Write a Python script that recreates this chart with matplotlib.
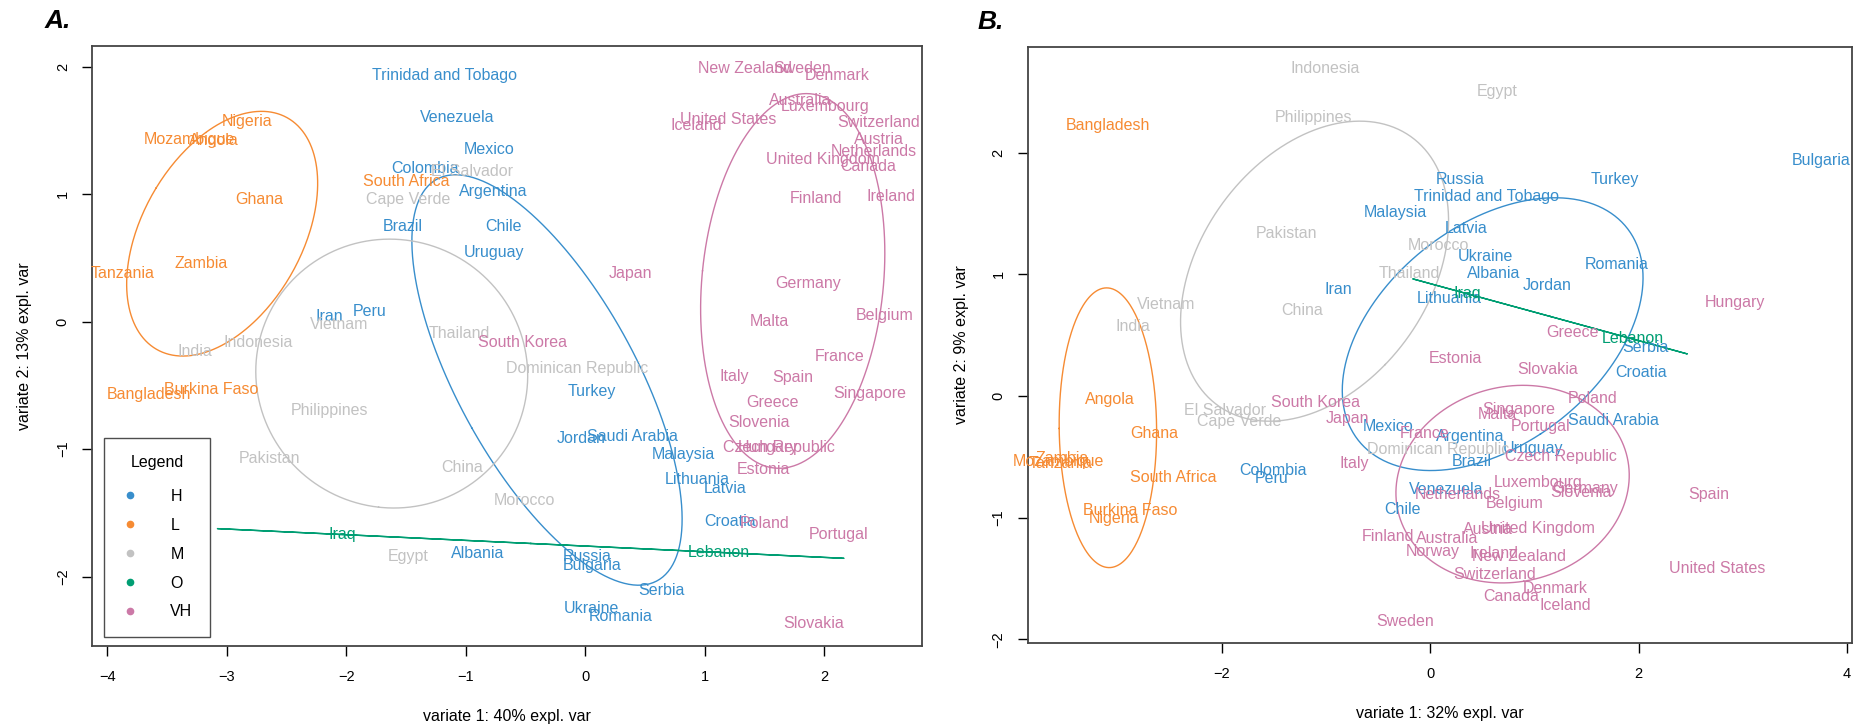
import numpy as np
import matplotlib.pyplot as plt
from matplotlib.lines import Line2D

plt.rcParams['font.family'] = ['Liberation Sans', 'DejaVu Sans']

groups = ["H", "L", "M", "O", "VH"]
group_colors = ["#388ECC", "#F68B33", "#C2C2C2", "#009E73", "#CC79A7"]

# ---- panel A: variate 1 (40%) vs variate 2 (13%)
a_countries = [
    # H
    "Trinidad and Tobago", "Venezuela", "Mexico", "Colombia", "Argentina", "Brazil",
    "Chile", "Uruguay", "Peru", "Iran", "Turkey", "Jordan", "Saudi Arabia", "Malaysia",
    "Lithuania", "Latvia", "Croatia", "Albania", "Russia", "Bulgaria", "Serbia",
    "Ukraine", "Romania",
    # L
    "Nigeria", "Mozambique", "Angola", "Ghana", "Zambia", "Tanzania", "South Africa",
    "Burkina Faso", "Bangladesh",
    # M
    "El Salvador", "Cape Verde", "Vietnam", "Thailand", "Indonesia", "India",
    "Dominican Republic", "Philippines", "Pakistan", "China", "Morocco", "Egypt",
    # O
    "Iraq", "Lebanon",
    # VH
    "New Zealand", "Sweden", "Denmark", "Australia", "Luxembourg", "United States",
    "Iceland", "Switzerland", "Austria", "Netherlands", "United Kingdom", "Canada",
    "Finland", "Ireland", "Japan", "Germany", "Malta", "Belgium", "France", "Italy",
    "Spain", "Singapore", "Greece", "Slovenia", "Czech Republic", "Hungary", "Estonia",
    "Poland", "Portugal", "Slovakia", "South Korea",
]
a_group = ["H"] * 23 + ["L"] * 9 + ["M"] * 12 + ["O"] * 2 + ["VH"] * 31
a_x = [
    -1.18, -1.07, -0.80, -1.34, -0.77, -1.53, -0.68, -0.76, -1.80, -2.14, 0.06, -0.03,
    0.40, 0.82, 0.94, 1.17, 1.21, -0.90, 0.02, 0.06, 0.64, 0.05, 0.30,
    -2.83, -3.31, -3.11, -2.73, -3.21, -3.87, -1.50, -3.13, -3.65,
    -0.95, -1.48, -2.06, -1.05, -2.74, -3.27, -0.07, -2.14, -2.64, -1.03, -0.51, -1.48,
    -2.03, 1.12,
    1.34, 1.82, 2.11, 1.80, 2.01, 1.20, 0.93, 2.46, 2.46, 2.42, 1.99, 2.37, 1.93, 2.56,
    0.38, 1.87, 1.54, 2.51, 2.13, 1.25, 1.74, 2.38, 1.57, 1.46, 1.62, 1.53, 1.49, 1.50,
    2.12, 1.91, -0.52,
]
a_y = [
    1.93, 1.60, 1.35, 1.20, 1.02, 0.75, 0.75, 0.54, 0.08, 0.04, -0.55, -0.92,
    -0.90, -1.04, -1.24, -1.31, -1.57, -1.82, -1.84, -1.91, -2.11, -2.25, -2.31,
    1.57, 1.43, 1.42, 0.96, 0.46, 0.38, 1.10, -0.53, -0.57,
    1.18, 0.96, -0.02, -0.09, -0.16, -0.23, -0.37, -0.70, -1.07, -1.14, -1.40, -1.84,
    -1.67, -1.81,
    1.99, 1.99, 1.93, 1.74, 1.69, 1.59, 1.54, 1.56, 1.43, 1.34, 1.27, 1.22, 0.97, 0.98,
    0.38, 0.30, 0.00, 0.05, -0.27, -0.43, -0.44, -0.56, -0.63, -0.79, -0.99, -0.99,
    -1.16, -1.58, -1.67, -2.37, -0.16,
]

# ---- panel B: variate 1 (32%) vs variate 2 (9%)
b_countries = [
    # H
    "Bulgaria", "Russia", "Turkey", "Trinidad and Tobago", "Malaysia", "Latvia", "Ukraine",
    "Romania", "Albania", "Jordan", "Iran", "Lithuania", "Serbia", "Croatia",
    "Saudi Arabia", "Mexico", "Argentina", "Uruguay", "Brazil", "Colombia", "Peru",
    "Venezuela", "Chile",
    # L
    "Bangladesh", "Angola", "Ghana", "Zambia", "Mozambique", "Tanzania", "South Africa",
    "Burkina Faso", "Nigeria",
    # M
    "Indonesia", "Egypt", "Philippines", "Pakistan", "Morocco", "Thailand", "Vietnam",
    "China", "India", "El Salvador", "Cape Verde", "Dominican Republic",
    # O
    "Iraq", "Lebanon",
    # VH
    "Hungary", "Greece", "Estonia", "Slovakia", "Poland", "Singapore", "Malta",
    "South Korea", "Japan", "Portugal", "France", "Czech Republic", "Italy", "Luxembourg",
    "Germany", "Slovenia", "Spain", "Netherlands", "Belgium", "United Kingdom", "Austria",
    "Finland", "Australia", "Norway", "Ireland", "New Zealand", "United States",
    "Switzerland", "Denmark", "Canada", "Iceland", "Sweden",
]
b_group = ["H"] * 23 + ["L"] * 9 + ["M"] * 12 + ["O"] * 2 + ["VH"] * 32
b_x = [
    3.75, 0.29, 1.77, 0.54, -0.33, 0.34, 0.53, 1.79, 0.61, 1.12, -0.88, 0.18, 2.07, 2.02,
    1.76, -0.40, 0.38, 0.99, 0.40, -1.51, -1.52, 0.15, -0.27,
    -3.09, -3.07, -2.65, -3.53, -3.57, -3.55, -2.47, -2.88, -3.03,
    -1.01, 0.64, -1.12, -1.38, 0.08, -0.20, -2.53, -1.23, -2.85, -1.97, -1.83, 0.08,
    0.36, 1.94,
    2.92, 1.37, 0.24, 1.13, 1.56, 0.85, 0.64, -1.10, -0.79, 1.06, -0.05, 1.25, -0.73,
    1.04, 1.49, 1.45, 2.67, 0.26, 0.81, 1.03, 0.55, -0.41, 0.16, 0.02, 0.61, 0.85, 2.75,
    0.62, 1.20, 0.78, 1.30, -0.24,
]
b_y = [
    1.94, 1.78, 1.78, 1.64, 1.51, 1.38, 1.15, 1.08, 1.01, 0.91, 0.88, 0.80, 0.40, 0.19,
    -0.20, -0.25, -0.33, -0.43, -0.54, -0.61, -0.68, -0.77, -0.93,
    2.22, -0.03, -0.31, -0.51, -0.54, -0.55, -0.67, -0.94, -1.01,
    2.69, 2.50, 2.29, 1.34, 1.24, 1.01, 0.75, 0.70, 0.57, -0.12, -0.21, -0.44,
    0.84, 0.47,
    0.77, 0.52, 0.31, 0.22, -0.02, -0.11, -0.15, -0.05, -0.18, -0.25, -0.31, -0.50, -0.55,
    -0.71, -0.76, -0.79, -0.81, -0.81, -0.88, -1.09, -1.10, -1.15, -1.17, -1.28, -1.29,
    -1.32, -1.42, -1.47, -1.58, -1.65, -1.72, -1.85,
]


def group_ellipse(ax, xs, ys, color, level=0.5):
    pts = np.column_stack([xs, ys])
    centre = pts.mean(axis=0)
    vals, vecs = np.linalg.eigh(np.cov(pts, rowvar=False))
    vals = np.clip(vals, 0, None)
    r = np.sqrt(-2 * np.log(1 - level))
    t = np.linspace(0, 2 * np.pi, 300)
    shape = vecs @ np.diag(np.sqrt(vals)) @ np.vstack([np.cos(t), np.sin(t)]) * r
    ax.plot(centre[0] + shape[0], centre[1] + shape[1], color=color, lw=1)


def r_limits(v):
    lo, hi = min(v), max(v)
    pad = 0.04 * (hi - lo)
    return lo - pad, hi + pad


def draw_panel(ax, names, grp, xs, ys, xticks, xlab, ylab):
    xs = np.array(xs)
    ys = np.array(ys)
    grp = np.array(grp)
    for g, c in zip(groups, group_colors):
        m = grp == g
        group_ellipse(ax, xs[m], ys[m], c)
    for name, g, x, y in zip(names, grp, xs, ys):
        ax.text(x, y, name, color=group_colors[groups.index(g)], fontsize=11.5,
                ha="center", va="center")
    ax.set_xlim(*r_limits(xs))
    ax.set_ylim(*r_limits(ys))
    ax.set_xticks(xticks)
    ax.set_yticks([-2, -1, 0, 1, 2])
    ax.tick_params(axis="both", direction="out", length=7, width=1, labelsize=10.5)
    ax.tick_params(axis="x", pad=10)
    ax.tick_params(axis="y", pad=9, labelrotation=90)
    for lab in ax.get_yticklabels():
        lab.set_va("center")
    for s in ax.spines.values():
        s.set_color("#444444")
        s.set_linewidth(1.3)
    ax.set_xlabel(xlab, fontsize=11.5)
    ax.set_ylabel(ylab, fontsize=11.5)
    ax.xaxis.label.set_va("center")
    ax.yaxis.label.set_va("center")


fig = plt.figure(figsize=(18.61, 7.25), dpi=100)
ax_a = fig.add_axes([0.04944, 0.1090, 0.4458, 0.8276])
ax_b = fig.add_axes([0.55223, 0.11269, 0.44267, 0.8229])

draw_panel(ax_a, a_countries, a_group, a_x, a_y, list(range(-4, 3)),
           "variate 1: 40% expl. var", "variate 2: 13% expl. var")
draw_panel(ax_b, b_countries, b_group, b_x, b_y, [-2, 0, 2, 4],
           "variate 1: 32% expl. var", "variate 2: 9% expl. var")

ax_a.xaxis.set_label_coords(0.5, -0.118)
ax_a.yaxis.set_label_coords(-0.081, 0.5)
ax_b.xaxis.set_label_coords(0.5, -0.117)
ax_b.yaxis.set_label_coords(-0.080, 0.5)

handles = [Line2D([], [], marker="o", linestyle="", markersize=4.5, color=c)
           for c in group_colors]
leg = ax_a.legend(handles, groups, title="Legend", loc="lower left",
                  bbox_to_anchor=(0.0145, 0.015), borderaxespad=0, fontsize=11.5,
                  title_fontsize=11.5, frameon=True, fancybox=False, borderpad=1.1,
                  handlelength=1.05, handletextpad=2.0, labelspacing=0.87)
leg._legend_box.sep = 13.5  # a bit more room under the title
leg.get_frame().set_edgecolor("#222222")
leg.get_frame().set_linewidth(1)

fig.text(0.024, 0.971, "A.", fontsize=19, fontweight="bold", fontstyle="italic",
         ha="left", va="center")
fig.text(0.5255, 0.969, "B.", fontsize=19, fontweight="bold", fontstyle="italic",
         ha="left", va="center")

fig.savefig("out.png", dpi=100)
